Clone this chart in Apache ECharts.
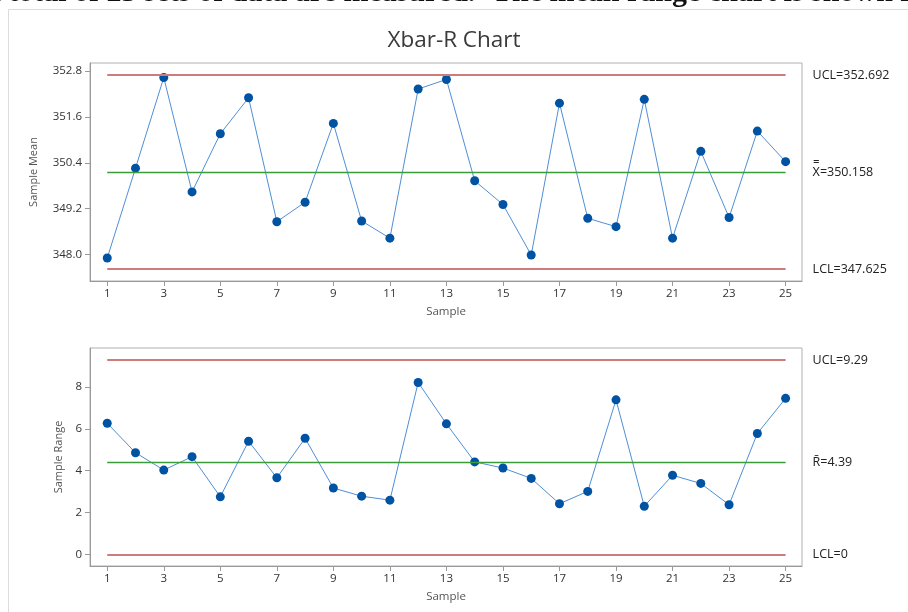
<!DOCTYPE html>
<html><head><meta charset="utf-8">
<script src="https://cdn.jsdelivr.net/npm/echarts@6/dist/echarts.min.js"></script>
<style>html,body{margin:0;padding:0;background:#fff}#c{width:908px;height:612px}</style>
</head><body><div id="c"></div>
<script>
var samples = [1,2,3,4,5,6,7,8,9,10,11,12,13,14,15,16,17,18,19,20,21,22,23,24,25];
var sampleMeans = [347.91,350.26,352.63,349.64,351.16,352.10,348.86,349.37,351.43,348.88,348.43,352.33,352.58,349.93,349.31,347.99,351.96,348.95,348.73,352.06,348.43,350.70,348.97,351.23,350.43];
var sampleRanges = [6.27,4.86,4.03,4.67,2.75,5.41,3.66,5.55,3.17,2.78,2.59,8.22,6.24,4.42,4.13,3.63,2.42,3.01,7.39,2.30,3.78,3.39,2.37,5.78,7.46];
var meanLimits = {ucl:352.692, cl:350.158, lcl:347.625};
var rangeLimits = {ucl:9.29, cl:4.39, lcl:0};
var xTicks = [1,3,5,7,9,11,13,15,17,19,21,23,25];
var meanTicks = [348.0,349.2,350.4,351.6,352.8];
var rangeTicks = [0,2,4,6,8];
var meanLabels = ['UCL=352.692','X\u033F=350.158','LCL=347.625'];
var rangeLabels = ['UCL=9.29','R\u0304=4.39','LCL=0'];
var captionParts = ['A total of 25 sets of data are measured.', 'The mean range chart is shown in Figure'];

var FONT = '"Open Sans", "Noto Sans", sans-serif';
function pairs(ys){ return samples.map(function(s,i){ return [s, ys[i]]; }); }
function ctrl(lim, labels){
  var first = samples[0], last = samples[samples.length-1];
  function ln(v, color, w, txt){
    return [{coord:[first, v], lineStyle:{color:color, width:w, type:'solid'},
             label:{show:true, position:'end', formatter:txt, distance:27, color:'#222', fontSize:12.5, fontFamily:FONT}},
            {coord:[last, v]}];
  }
  return {silent:true, symbol:'none', animation:false,
    data:[ln(lim.ucl,'#cd7b7b',2,labels[0]), ln(lim.cl,'#3a9d3a',1.3,labels[1]), ln(lim.lcl,'#cd7b7b',2,labels[2])]};
}
function xAxisCfg(idx){
  return {type:'value', gridIndex:idx, min:0.39, max:25.58, splitLine:{show:false},
    name:'Sample', nameLocation:'middle', nameGap:25, nameTextStyle:{color:'#555', fontSize:11.5, fontFamily:FONT},
    axisLine:{onZero:false, lineStyle:{color:'#999', width:1}},
    axisTick:{customValues:xTicks, length:5, lineStyle:{color:'#999'}},
    axisLabel:{customValues:xTicks, color:'#333', fontSize:11.5, fontFamily:FONT, margin:7}};
}
function yAxisCfg(idx, min, max, ticks, name, gap, dec){
  return {type:'value', gridIndex:idx, min:min, max:max, splitLine:{show:false},
    name:name, nameLocation:'middle', nameGap:gap, nameTextStyle:{color:'#555', fontSize:11, fontFamily:FONT},
    axisLine:{show:true, onZero:false, lineStyle:{color:'#999', width:1}},
    axisTick:{show:true, customValues:ticks, length:5, lineStyle:{color:'#999'}},
    axisLabel:{customValues:ticks, color:'#333', fontSize:11.5, fontFamily:FONT, margin:8,
      formatter:function(v){ return v.toFixed(dec); }}};
}
var seriesStyle = {type:'line', symbol:'circle', symbolSize:9, animation:false,
  lineStyle:{color:'#4f8fd6', width:1}, itemStyle:{color:'#0052a3'}};

var chart = echarts.init(document.getElementById('c'));
chart.setOption({
  backgroundColor:'#fff',
  animation:false,
  title:{text:'Xbar-R Chart', left:'center', top:24, textStyle:{color:'#3a3a3a', fontSize:22.5, fontWeight:'normal', fontFamily:FONT}},
  graphic:[
    {type:'rect', shape:{x:8.5, y:9.5, width:1000, height:1000}, style:{fill:'none', stroke:'#dcdcdc', lineWidth:1}, silent:true},
    {type:'text', x:-21, y:8.5, style:{text:captionParts[0], font:'bold 30px "Liberation Serif", serif', fill:'#111', verticalAlign:'bottom'}, silent:true},
    {type:'text', x:492, y:8.5, style:{text:captionParts[1], font:'bold 30px "Liberation Serif", serif', fill:'#111', verticalAlign:'bottom'}, silent:true}
  ],
  grid:[
    {left:90, top:63, width:712, height:218, show:true, borderColor:'#b0b0b0', borderWidth:1, backgroundColor:'#fff'},
    {left:90, top:348, width:712, height:218, show:true, borderColor:'#b0b0b0', borderWidth:1, backgroundColor:'#fff'}
  ],
  xAxis:[xAxisCfg(0), xAxisCfg(1)],
  yAxis:[yAxisCfg(0, 347.31, 353.01, meanTicks, 'Sample Mean', 51, 1),
         yAxisCfg(1, -0.56, 9.87, rangeTicks, 'Sample Range', 26, 0)],
  series:[
    Object.assign({}, seriesStyle, {xAxisIndex:0, yAxisIndex:0, data:pairs(sampleMeans), markLine:ctrl(meanLimits, meanLabels), z:3}),
    Object.assign({}, seriesStyle, {xAxisIndex:1, yAxisIndex:1, data:pairs(sampleRanges), markLine:ctrl(rangeLimits, rangeLabels), z:3})
  ]
});
</script></body></html>
